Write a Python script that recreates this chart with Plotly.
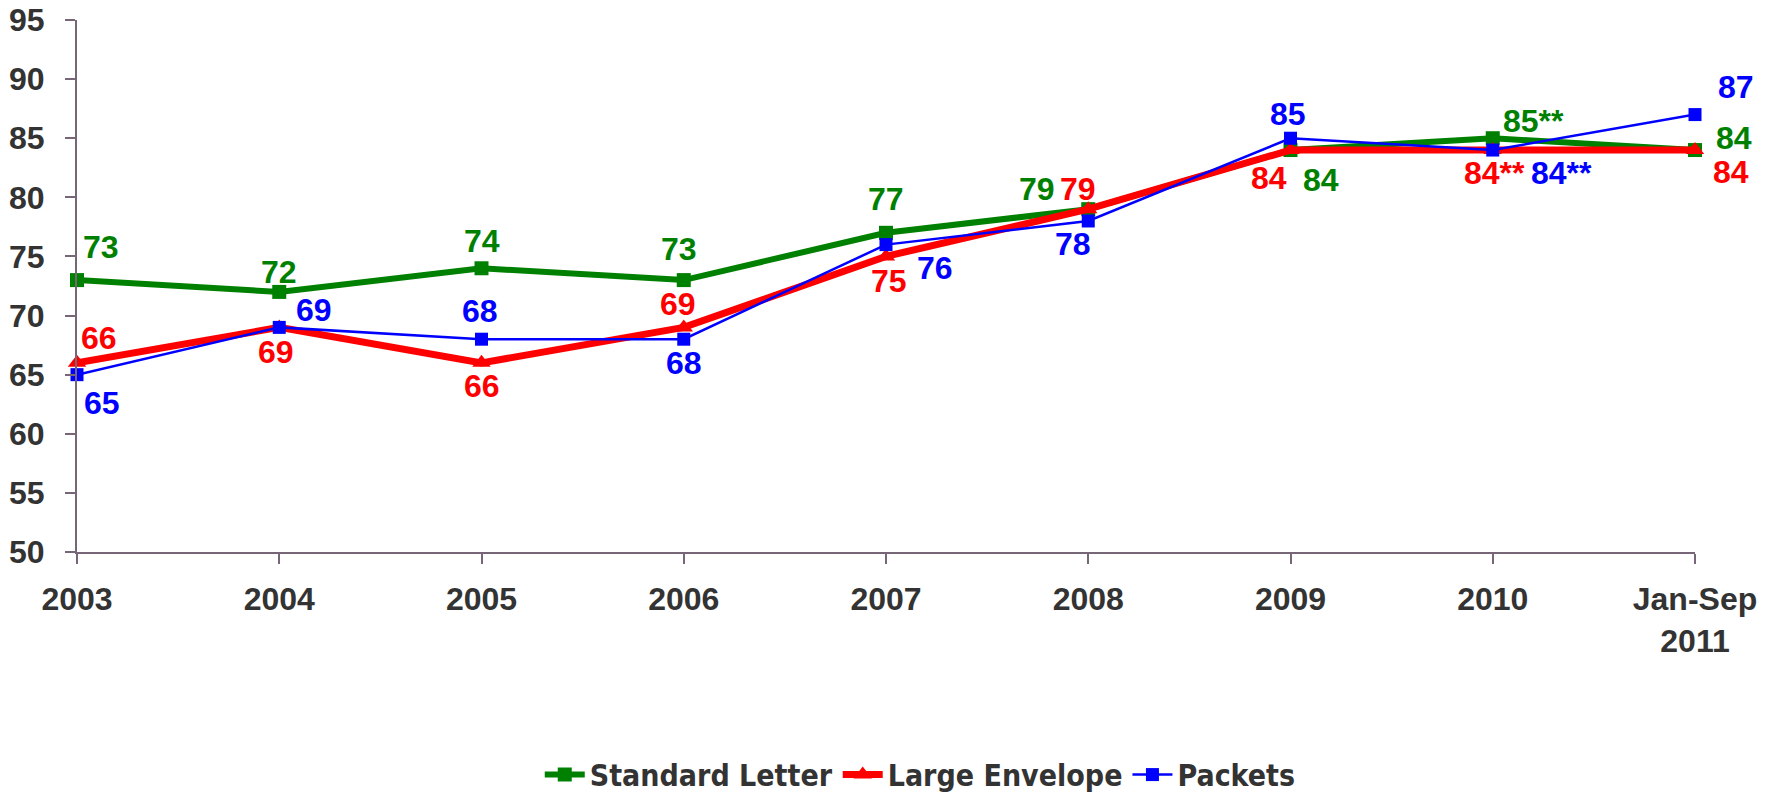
import plotly.graph_objects as go

# ---- data ----
categories = ["2003", "2004", "2005", "2006", "2007", "2008", "2009", "2010", "Jan-Sep<br>2011"]
standard_letter = [73, 72, 74, 73, 77, 79, 84, 85, 84]
large_envelope = [66, 69, 66, 69, 75, 79, 84, 84, 84]
packets = [65, 69, 68, 68, 76, 78, 85, 84, 87]
label_notes = ["", "", "", "", "", "", "", "**", ""]
y_ticks = [50, 55, 60, 65, 70, 75, 80, 85, 90, 95]

# ---- label placement (pixel offsets: dx right, dy down) ----
off_green = [(24, -33), (0, -20), (0, -27), (-5, -31), (0, -34), (-51, -20), (30, 30), (41, -17), (39, -12)]
off_red = [(22, -25), (-3, 25), (0, 23), (-6, -23), (3, 25), (-10, -20), (-22, 28), (2, 23), (36, 22)]
off_blue = [(25, 28), (35, -17), (-2, -28), (0, 24), (49, 23), (-15, 23), (-3, -24), (69, 23), (41, -28)]

GREEN = "#008000"
RED = "#FF0000"
BLUE = "#0000FF"
AXIS = "#776677"
TXT = "#333333"
FONT = "Liberation Sans, Arial, sans-serif"

fig = go.Figure()
fig.add_trace(go.Scatter(x=categories, y=standard_letter, name="Standard Letter", mode="lines+markers",
                         line=dict(color=GREEN, width=6), marker=dict(symbol="square", size=14, color=GREEN),
                         cliponaxis=False))
fig.add_trace(go.Scatter(x=categories, y=large_envelope, name="Large Envelope", mode="lines+markers",
                         line=dict(color=RED, width=7), marker=dict(symbol="triangle-up", size=16, color=RED),
                         cliponaxis=False))
fig.add_trace(go.Scatter(x=categories, y=packets, name="Packets", mode="lines+markers",
                         line=dict(color=BLUE, width=2.5), marker=dict(symbol="square", size=13, color=BLUE),
                         cliponaxis=False))

for vals, offs, col in [(standard_letter, off_green, GREEN), (large_envelope, off_red, RED), (packets, off_blue, BLUE)]:
    for i, (v, n, (dx, dy)) in enumerate(zip(vals, label_notes, offs)):
        fig.add_annotation(x=i, y=v, xref="x", yref="y", text=f"{v}{n}", showarrow=False,
                           xshift=dx, yshift=-dy,
                           font=dict(family=FONT, size=32, color=col, weight="bold"))

fig.update_layout(
    width=1780, height=792,
    margin=dict(l=77, r=85, t=20, b=240),
    paper_bgcolor="white", plot_bgcolor="white",
    font=dict(family=FONT, size=32, color=TXT, weight="bold"),
    showlegend=True,
    legend=dict(orientation="h", xref="container", yref="container",
                x=0.517, xanchor="center", y=0.022, yanchor="middle",
                font=dict(family="DejaVu Sans Condensed, Liberation Sans Narrow, sans-serif",
                          size=30, color=TXT, weight="bold"),
                itemwidth=40, tracegroupgap=0, borderwidth=0, bgcolor="rgba(0,0,0,0)"),
)
fig.update_xaxes(type="category", range=[0, 8], showline=True, linecolor=AXIS, linewidth=2,
                 ticks="outside", ticklen=10, tickcolor=AXIS, tickwidth=2, showgrid=False, zeroline=False,
                 tickfont=dict(family=FONT, size=32, color=TXT, weight="bold"), ticklabelstandoff=8,
                 automargin=False)
fig.update_yaxes(range=[50, 95], tickvals=y_ticks, showline=True, linecolor=AXIS, linewidth=2,
                 ticks="outside", ticklen=10, tickcolor=AXIS, tickwidth=2, showgrid=False, zeroline=False,
                 tickfont=dict(family=FONT, size=32, color=TXT, weight="bold"), ticklabelstandoff=14,
                 automargin=False)

fig.write_html("out.html", config={"displayModeBar": False},
               post_script="document.body.style.margin='0';document.body.style.overflow='hidden';")
